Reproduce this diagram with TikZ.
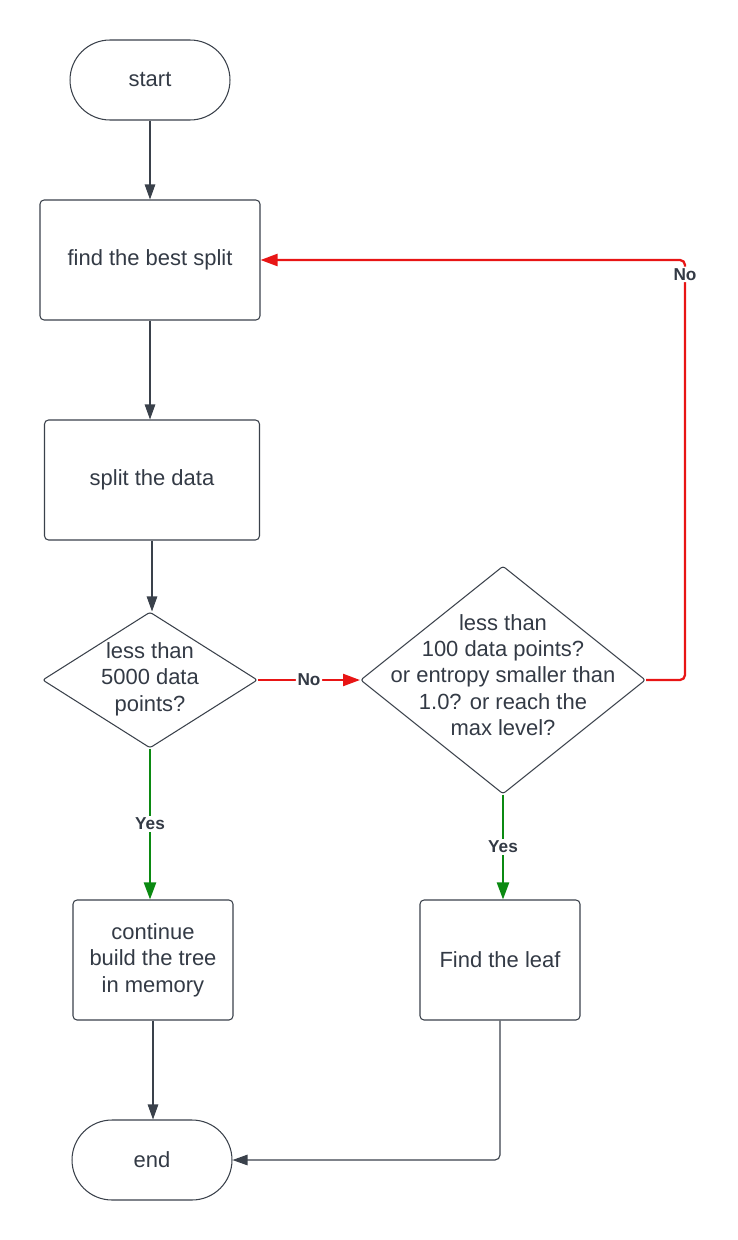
\documentclass[tikz,border=0pt]{standalone}
\usepackage{fontspec}
\setmainfont{Liberation Sans}
\usetikzlibrary{arrows.meta,shapes.geometric}
\definecolor{inkgray}{HTML}{333A45}
\definecolor{linegray}{HTML}{3A414B}
\definecolor{noRed}{HTML}{E81515}
\definecolor{yesGreen}{HTML}{0B8A12}
\tikzset{
  stepbox/.style={draw=linegray, line width=0.6pt, rounded corners=0.8mm, minimum width=#1, minimum height=2.4cm, inner sep=0pt, align=center, text=inkgray, font=\fontsize{12.5}{15}\selectfont},
  terminal/.style={draw=linegray, line width=0.6pt, rounded corners=0.8cm, minimum width=3.2cm, minimum height=1.6cm, inner sep=0pt, text=inkgray, font=\fontsize{12.5}{15}\selectfont},
  decision/.style={diamond, draw=linegray, line width=0.6pt, rounded corners=0.5mm, inner sep=0pt},
  decisiontext/.style={align=center, text=inkgray, font=\fontsize{12.5}{15}\selectfont},
  flow/.style={draw=linegray, line width=0.65pt, -{Triangle[length=3mm,width=2.1mm]}},
  noflow/.style={draw=noRed, line width=1.3pt, rounded corners=1mm, -{Triangle[length=3.4mm,width=2.4mm]}},
  yesflow/.style={draw=yesGreen, line width=1.3pt, -{Triangle[length=3.4mm,width=2.4mm]}},
  answer/.style={fill=white, inner sep=1pt, text=inkgray, font=\bfseries\fontsize{9.8}{11}\selectfont}
}
\begin{document}
\begin{tikzpicture}[x=0.02cm, y=-0.02cm]
\useasboundingbox (0,0) rectangle (737,1240);

\node[terminal] (start) at (150,80) {start};
\node[stepbox=4.4cm] (findsplit) at (150,260) {find the best split};
\node[stepbox=4.3cm] (splitdata) at (152,480) {split the data};
\node[decision, minimum width=4.3cm, minimum height=2.72cm] (small) at (150,680) {};
\node[decisiontext] (smalltext) at (150,679) {less than\\5000 data\\points?};
\node[decision, minimum width=5.7cm, minimum height=4.56cm] (stop) at (503,680) {};
\node[decisiontext] (stoptext) at (503,675) {less than\\100 data points?\\or entropy smaller than\\1.0? or reach the\\max level?};
\node[stepbox=3.2cm] (memory) at (153,960) {continue\\build the tree\\in memory};
\node[stepbox=3.2cm] (leaf) at (500,960) {Find the leaf};
\node[terminal] (finish) at (152,1160) {end};
\coordinate (loopcorner) at (685,260);

\draw[flow] (start) -- (findsplit);
\draw[flow] (findsplit.south) -- (findsplit.south |- splitdata.north);
\draw[flow] (splitdata.south) -- (splitdata.south |- small.north);
\draw[noflow] (small.east) -- node[answer] {No} (stop.west);
\draw[noflow] (stop.east) -| node[answer, pos=0.983] {No} (loopcorner) -- (findsplit.east);
\draw[yesflow] (small.south) -- node[answer] {Yes} (small.south |- memory.north);
\draw[yesflow] (stop.south) -- node[answer] {Yes} (stop.south |- leaf.north);
\draw[flow] (memory.south) -- (memory.south |- finish.north);
\draw[flow, rounded corners=1mm] (leaf.south) |- (finish.east);
\end{tikzpicture}
\end{document}
